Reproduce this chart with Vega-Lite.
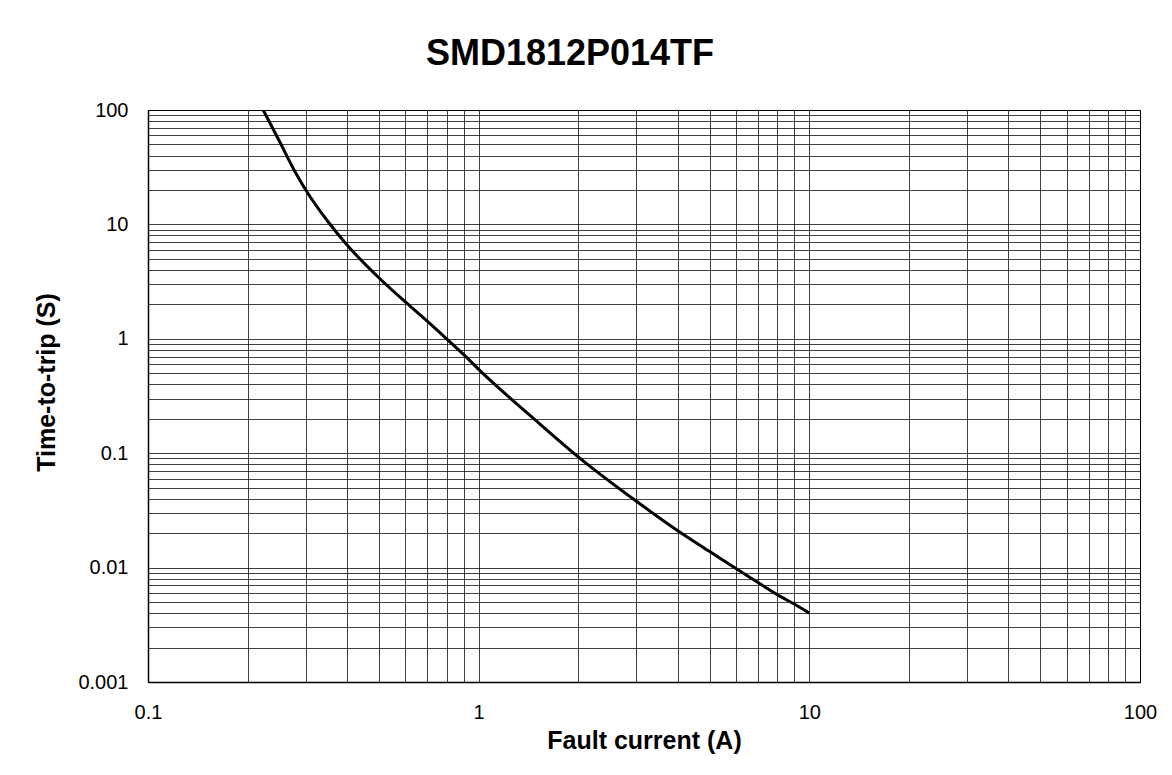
{
  "$schema": "https://vega.github.io/schema/vega-lite/v6.json",
  "width": 992,
  "height": 572,
  "autosize": {"type": "none"},
  "padding": {"left": 148, "top": 110, "right": 32, "bottom": 93},
  "background": "white",
  "title": {
    "text": "SMD1812P014TF",
    "font": "Liberation Sans",
    "fontWeight": "bold",
    "fontSize": 36,
    "color": "#000",
    "anchor": "middle",
    "dx": -74,
    "offset": 27
  },
  "config": {
    "view": {"stroke": "#000", "strokeWidth": 1},
    "axis": {
      "labelFont": "Liberation Sans",
      "labelFontSize": 20,
      "labelColor": "#000",
      "titleFont": "Liberation Sans",
      "titleFontWeight": "bold",
      "titleFontSize": 25,
      "titleColor": "#000",
      "gridColor": "#000",
      "gridOpacity": 0.75,
      "gridWidth": 1,
      "domainColor": "#000",
      "domainWidth": 1.5,
      "ticks": false,
      "labelFlush": false,
      "labelOverlap": false,
      "labelBound": false
    }
  },
  "data": {
    "values": [
      {"current": 0.223, "time": 100},
      {"current": 0.25, "time": 53},
      {"current": 0.28, "time": 28},
      {"current": 0.3, "time": 20},
      {"current": 0.35, "time": 10.6},
      {"current": 0.4, "time": 6.6},
      {"current": 0.5, "time": 3.4},
      {"current": 0.6, "time": 2.1},
      {"current": 0.7, "time": 1.42},
      {"current": 0.8, "time": 1.0},
      {"current": 0.9, "time": 0.73},
      {"current": 1.0, "time": 0.54},
      {"current": 1.5, "time": 0.19},
      {"current": 2, "time": 0.093},
      {"current": 3, "time": 0.038},
      {"current": 4, "time": 0.021},
      {"current": 5, "time": 0.0138},
      {"current": 6, "time": 0.0098},
      {"current": 7, "time": 0.0074},
      {"current": 8, "time": 0.0058},
      {"current": 9, "time": 0.0048},
      {"current": 10, "time": 0.004}
    ]
  },
  "mark": {"type": "line", "color": "#000", "strokeWidth": 3, "interpolate": "monotone", "clip": true},
  "encoding": {
    "x": {
      "field": "current",
      "type": "quantitative",
      "scale": {"type": "log", "domain": [0.1, 100], "nice": false},
      "axis": {
        "title": "Fault current (A)",
        "values": [0.1,0.2,0.3,0.4,0.5,0.6,0.7,0.8,0.9,1,2,3,4,5,6,7,8,9,10,20,30,40,50,60,70,80,90,100],
        "format": "~g",
        "labelExpr": "indexof([0.1,1,10,100], datum.value) >= 0 ? datum.label : ''",
        "labelPadding": 20,
        "titlePadding": 6
      }
    },
    "y": {
      "field": "time",
      "type": "quantitative",
      "scale": {"type": "log", "domain": [0.001, 100], "nice": false},
      "axis": {
        "title": "Time-to-trip (S)",
        "values": [0.001,0.002,0.003,0.004,0.005,0.006,0.007,0.008,0.009,0.01,0.02,0.03,0.04,0.05,0.06,0.07,0.08,0.09,0.1,0.2,0.3,0.4,0.5,0.6,0.7,0.8,0.9,1,2,3,4,5,6,7,8,9,10,20,30,40,50,60,70,80,90,100],
        "format": "~g",
        "labelExpr": "indexof([0.001,0.01,0.1,1,10,100], datum.value) >= 0 ? datum.label : ''",
        "labelPadding": 20,
        "titlePadding": 18,
        "titleY": 272
      }
    }
  }
}
